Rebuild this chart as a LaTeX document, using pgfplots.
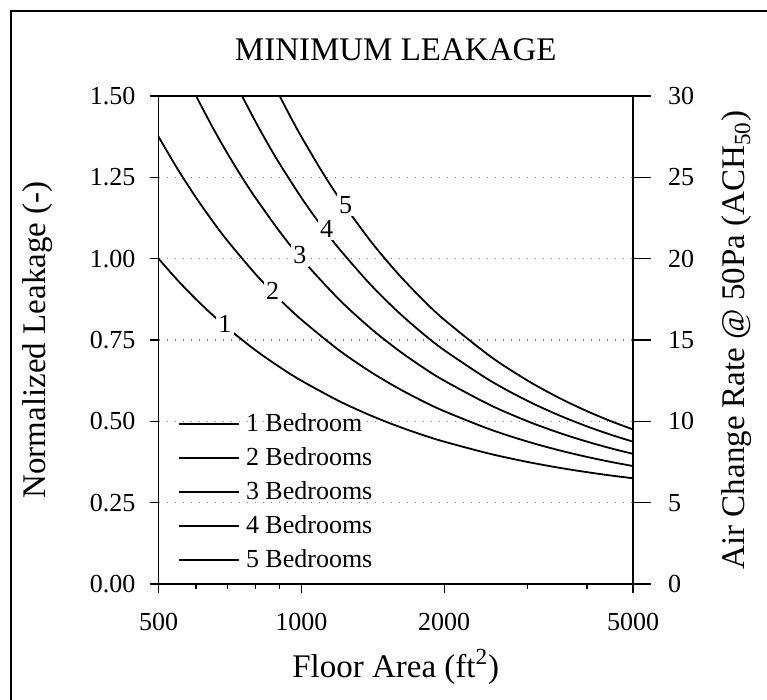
\documentclass[border=0pt]{standalone}
\usepackage{fontspec}
\setmainfont{Liberation Serif}
\usepackage{pgfplots}
\pgfplotsset{compat=1.18}
\begin{document}
\begin{tikzpicture}[x=1pt,y=1pt]
\useasboundingbox (0,0) rectangle (383.5,350);
\draw[line width=0.8pt] (5.5,0) -- (5.5,344.5) -- (383.5,344.5);
\node[font=\fontsize{16.5}{19}\selectfont] at (197.9,325) {MINIMUM LEAKAGE};
\begin{axis}[
  at={(79.25pt,58pt)}, anchor=south west,
  width=237.25pt, height=244pt, scale only axis,
  xmode=log, xmin=500, xmax=5000,
  ymin=0, ymax=1.5,
  xtick={500,1000,2000,5000},
  xticklabels={500,1000,2000,5000},
  minor xtick={600,700,800,900,3000,4000},
  ytick={0,0.25,0.5,0.75,1,1.25,1.5},
  yticklabel style={xshift=-3.5pt, /pgf/number format/.cd,fixed,fixed zerofill,precision=2},
  /pgf/number format/assume math mode=true,
  xtick pos=bottom, ytick pos=left,
  tick align=outside,
  major tick length=4.5pt, minor tick length=2.5pt,
  tick style={black, line width=0.6pt},
  axis line style={line width=0.8pt},
  ymajorgrids,
  major grid style={gray, line width=0.6pt, dash pattern=on 0.7pt off 3.3pt},
  tick label style={font=\fontsize{13}{15}\selectfont},
  xticklabel style={yshift=-6.5pt},
  xlabel={Floor Area (ft\textsuperscript{2})},
  ylabel={Normalized Leakage (-)},
  label style={font=\fontsize{16.5}{20}\selectfont},
  xlabel style={at={(axis description cs:0.5,-0.17)}, anchor=center},
  ylabel style={at={(axis description cs:-0.255,0.5)}, anchor=center},
  legend style={at={(axis description cs:0.028,0.367)}, anchor=north west,
    draw=none, fill=none, font=\fontsize{13}{15}\selectfont, row sep=2.5pt,
    /tikz/every odd column/.append style={column sep=1pt}},
  legend cell align=left,
  legend image code/.code={\draw[#1] (0pt,0pt) -- (30pt,0pt);},
]
\addplot[black, line width=0.9pt, smooth, no marks] coordinates {(500,1.0) (550,0.9318) (600,0.875) (650,0.8269) (700,0.7857) (800,0.71875) (900,0.6667) (1000,0.625) (1200,0.5625) (1400,0.5179) (1600,0.4844) (1800,0.4583) (2000,0.4375) (2500,0.40) (3000,0.375) (3500,0.3571) (4000,0.34375) (4500,0.3333) (5000,0.325)};
\addlegendentry{1 Bedroom}
\addplot[black, line width=0.9pt, smooth, no marks] coordinates {(500,1.375) (550,1.2727) (600,1.1875) (650,1.1154) (700,1.0536) (800,0.9531) (900,0.875) (1000,0.8125) (1200,0.71875) (1400,0.6518) (1600,0.6016) (1800,0.5625) (2000,0.53125) (2500,0.475) (3000,0.4375) (3500,0.4107) (4000,0.3906) (4500,0.375) (5000,0.3625)};
\addlegendentry{2 Bedrooms}
\addplot[black, line width=0.9pt, smooth, no marks] coordinates {(600,1.5) (650,1.4038) (700,1.3214) (750,1.25) (800,1.1875) (900,1.0833) (1000,1.0) (1200,0.875) (1400,0.7857) (1600,0.71875) (1800,0.6667) (2000,0.625) (2500,0.55) (3000,0.5) (3500,0.4643) (4000,0.4375) (4500,0.4167) (5000,0.40)};
\addlegendentry{3 Bedrooms}
\addplot[black, line width=0.9pt, smooth, no marks] coordinates {(750,1.5) (800,1.4219) (850,1.3529) (900,1.2917) (1000,1.1875) (1100,1.1023) (1200,1.03125) (1400,0.9196) (1600,0.8359) (1800,0.7708) (2000,0.71875) (2500,0.625) (3000,0.5625) (3500,0.5179) (4000,0.4844) (4500,0.4583) (5000,0.4375)};
\addlegendentry{4 Bedrooms}
\addplot[black, line width=0.9pt, smooth, no marks] coordinates {(900,1.5) (950,1.4342) (1000,1.375) (1100,1.2727) (1200,1.1875) (1400,1.0536) (1600,0.9531) (1800,0.875) (2000,0.8125) (2500,0.70) (3000,0.625) (3500,0.5714) (4000,0.53125) (4500,0.5) (5000,0.475)};
\addlegendentry{5 Bedrooms}
\end{axis}
\begin{axis}[
  at={(79.25pt,58pt)}, anchor=south west,
  width=237.25pt, height=244pt, scale only axis,
  xmode=log, xmin=500, xmax=5000,
  axis x line=none, axis y line*=right,
  ymin=0, ymax=30, ytick={0,5,...,30},
  /pgf/number format/assume math mode=true,
  tick align=outside, major tick length=9pt,
  tick style={black, line width=0.6pt},
  axis line style={line width=0.8pt},
  tick label style={font=\fontsize{13}{15}\selectfont},
  yticklabel style={xshift=5pt},
  ylabel={Air Change Rate @ 50Pa (ACH\textsubscript{50})},
  label style={font=\fontsize{16.5}{20}\selectfont},
  ylabel style={at={(axis description cs:1.219,0.5)}, anchor=center, rotate=0},
]
\begin{scope}[every node/.style={fill=white, inner sep=1.2pt, font=\fontsize{13}{15}\selectfont}]
\node at (axis cs:690,16.0) {1};
\node at (axis cs:870,18.0) {2};
\node at (axis cs:993,20.2) {3};
\node at (axis cs:1131,21.8) {4};
\node at (axis cs:1239,23.3) {5};
\end{scope}
\end{axis}
\end{tikzpicture}
\end{document}
